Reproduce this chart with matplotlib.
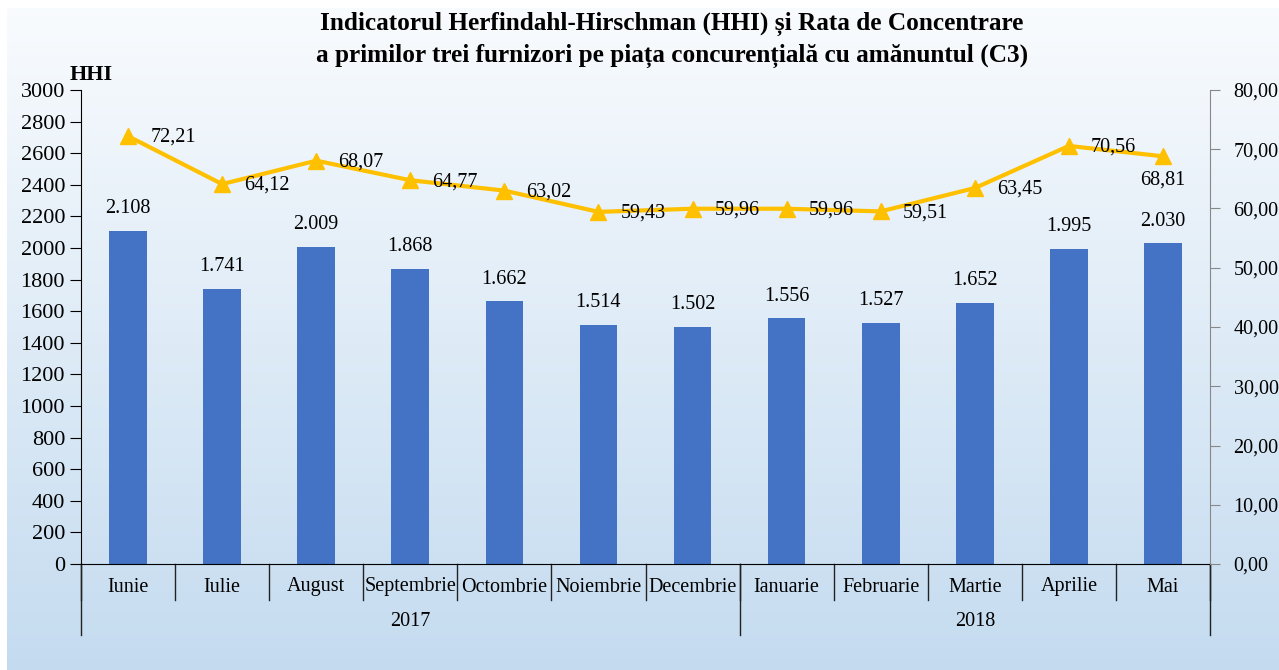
import matplotlib
matplotlib.use("Agg")
import matplotlib.pyplot as plt
import numpy as np
from matplotlib.lines import Line2D

plt.rcParams['font.family'] = ['Liberation Serif', 'DejaVu Serif']

# data
months = ['Iunie', 'Iulie', 'August', 'Septembrie', 'Octombrie', 'Noiembrie',
          'Decembrie', 'Ianuarie', 'Februarie', 'Martie', 'Aprilie', 'Mai']
years = ['2017', '2018']
year_counts = [7, 5]
hhi = [2108, 1741, 2009, 1868, 1662, 1514, 1502, 1556, 1527, 1652, 1995, 2030]
c3 = [72.21, 64.12, 68.07, 64.77, 63.02, 59.43, 59.96, 59.96, 59.51, 63.45, 70.56, 68.81]

W, H = 1279, 670
fig = plt.figure(figsize=(W / 100, H / 100), dpi=100)
fig.patch.set_facecolor('white')

# gradient background
bg = fig.add_axes([7 / W, 0, 1 - 7 / W, 1 - 8 / H])
top = np.array([0.975, 0.985, 0.995])
bot = np.array([0.77, 0.86, 0.94])
t = np.linspace(0, 1, 256)[:, None]
grad = top[None, :] * (1 - t) + bot[None, :] * t
bg.imshow(grad[:, None, :], aspect='auto', extent=[0, 1, 0, 1])
bg.axis('off')
bg.set_zorder(-5)

x0, x1, ytop, ybot = 81, 1210, 90, 564
ax = fig.add_axes([x0 / W, 1 - ybot / H, (x1 - x0) / W, (ybot - ytop) / H])
ax.patch.set_alpha(0)

x = np.arange(len(months))
fs = 14.5
ax.bar(x, hhi, width=0.4, color='#4472C4', zorder=2)
for xi, v in zip(x, hhi):
    ax.annotate('{:,}'.format(v).replace(',', '.'), (xi, v), xytext=(0, 9),
                textcoords='offset points', ha='center', va='bottom', fontsize=fs)

ax.set_xlim(-0.5, len(months) - 0.5)
ax.set_ylim(0, 3000)
ax.set_yticks(np.arange(0, 3001, 200))
ax.set_xticks([])
ax.tick_params(axis='y', direction='out', length=8, labelsize=16, colors='black')
ax.spines['top'].set_visible(False)
ax.spines['right'].set_visible(False)
ax.spines['left'].set_color('black')
ax.spines['bottom'].set_color('black')

ax2 = ax.twinx()
ax2.set_ylim(0, 80)
ax2.set_yticks(np.arange(0, 81, 10))
ax2.set_yticklabels(['{:.2f}'.format(v).replace('.', ',') for v in np.arange(0, 81, 10)])
ax2.tick_params(axis='y', direction='out', length=7, labelsize=fs, color='#888888',
                labelcolor='black', pad=10)
for s in ['top', 'left', 'bottom']:
    ax2.spines[s].set_visible(False)
ax2.spines['right'].set_color('#888888')

ax2.plot(x, c3, color='#FFC000', lw=3, marker='^', markersize=11, zorder=3)
for i, (xi, v) in enumerate(zip(x, c3)):
    lab = '{:.2f}'.format(v).replace('.', ',')
    if i == len(c3) - 1:
        ax2.annotate(lab, (xi, v), xytext=(0, -10), textcoords='offset points',
                     ha='center', va='top', fontsize=fs)
    else:
        ax2.annotate(lab, (xi, v), xytext=(16, -1), textcoords='offset points',
                     ha='left', va='center', fontsize=fs)

# two level category axis
ah = ybot - ytop
n = len(months)
for i in range(n + 1):
    ax.add_line(Line2D([i / n, i / n], [0, -36 / ah], transform=ax.transAxes,
                       color='#222222', lw=1, clip_on=False))
for i, m in enumerate(months):
    ax.text((i + 0.5) / n, -23 / ah, m, transform=ax.transAxes, ha='center',
            va='center', fontsize=fs)
b = 0
bounds = [0]
for c in year_counts:
    b += c
    bounds.append(b)
for bi in bounds:
    ax.add_line(Line2D([bi / n, bi / n], [0, -71 / ah], transform=ax.transAxes,
                       color='#222222', lw=1, clip_on=False))
for yname, a, bb in zip(years, bounds[:-1], bounds[1:]):
    ax.text((a + bb) / 2 / n, -58 / ah, yname, transform=ax.transAxes, ha='center',
            va='center', fontsize=fs)

fig.text(70 / W, 1 - 75 / H, 'HHI', fontsize=16, fontweight='bold',
         ha='left', va='center')
fig.text(672 / W, 1 - 40 / H,
         'Indicatorul Herfindahl-Hirschman (HHI) și Rata de Concentrare\n'
         'a primilor trei furnizori pe piața concurențială cu amănuntul (C3)',
         ha='center', va='center', fontsize=18.2, fontweight='bold', linespacing=1.45)

fig.savefig('out.png', dpi=100)
